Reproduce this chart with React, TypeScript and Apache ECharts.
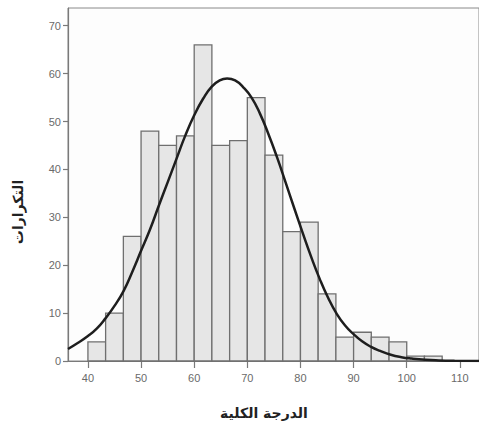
import React, { useEffect, useRef } from "react";
import * as echarts from "echarts";

// Histogram bins (lower edge, upper edge) and counts
const binLower = [40, 43.33, 46.67, 50, 53.33, 56.67, 60, 63.33, 66.67, 70, 73.33, 76.67, 80, 83.33, 86.67, 90, 93.33, 96.67, 100, 103.33];
const binUpper = [43.33, 46.67, 50, 53.33, 56.67, 60, 63.33, 66.67, 70, 73.33, 76.67, 80, 83.33, 86.67, 90, 93.33, 96.67, 100, 103.33, 106.67];
const counts = [4, 10, 26, 48, 45, 47, 66, 45, 46, 55, 43, 27, 29, 14, 5, 6, 5, 4, 1, 1];

// Normal curve points
const curveX = [36.25, 38, 40, 41.7, 43.3, 45, 46.7, 48.3, 50, 51.7, 53.3, 55, 56.7, 58.3, 60, 61.7, 63.3, 64.8, 66.2, 67.7, 69.2, 70.8, 72.4, 74, 75.6, 77.2, 78.8, 80.4, 82, 83.6, 85.2, 86.8, 88.4, 90, 91.6, 93.2, 95, 97, 99, 101, 103.5, 106, 109, 113.6];
const curveY = [2.5, 3.7, 5.2, 6.8, 8.9, 11.5, 14.6, 18.5, 23, 27.5, 32.3, 37.3, 42.3, 47, 51.3, 54.8, 57.3, 58.6, 59, 58.6, 57.2, 55, 51.6, 47.3, 42.5, 37.3, 32, 26.8, 21.8, 17.2, 13.2, 9.9, 7.4, 5.6, 4.1, 3, 2.1, 1.3, 0.8, 0.5, 0.25, 0.12, 0.05, 0.02];

// Tick labels
const xTicks = [40, 50, 60, 70, 80, 90, 100, 110];
const yTicks = [0, 10, 20, 30, 40, 50, 60, 70];

const xTitle = "الدرجة الكلية";
const yTitle = "التكرارات";

export default function App() {
  const ref = useRef<HTMLDivElement>(null);
  useEffect(() => {
    if (!ref.current) return;
    const chart = echarts.init(ref.current, undefined, { renderer: "svg" });
    const histData = counts.map((c, i) => [binLower[i], binUpper[i], c]);
    const lineData = curveX.map((x, i) => [x, curveY[i]]);
    const grey = "#7a7a7a";
    chart.setOption({
      animation: false,
      backgroundColor: "#ffffff",
      grid: {
        left: 68,
        right: 0,
        top: 8,
        bottom: 64,
        show: true,
        borderColor: "#8a8a8a",
        borderWidth: 1,
        backgroundColor: "#fdfdfd",
      },
      xAxis: {
        type: "value",
        min: 36.25,
        max: 113.6,
        splitLine: { show: false },
        axisLine: { show: true, lineStyle: { color: grey, width: 1.2 } },
        axisTick: {
          show: true,
          customValues: xTicks,
          length: 7,
          lineStyle: { color: grey, width: 1.2 },
        },
        axisLabel: {
          customValues: xTicks,
          color: "#6a6a6a",
          fontSize: 11,
          margin: 11,
          fontFamily: "Liberation Sans, Arial, sans-serif",
        },
      },
      yAxis: {
        type: "value",
        min: 0,
        max: 73.7,
        splitLine: { show: false },
        axisLine: { show: true, lineStyle: { color: grey, width: 1.2 } },
        axisTick: {
          show: true,
          customValues: yTicks,
          length: 5,
          lineStyle: { color: grey, width: 1.2 },
        },
        axisLabel: {
          customValues: yTicks,
          color: "#6a6a6a",
          fontSize: 11,
          margin: 7,
          fontFamily: "Liberation Sans, Arial, sans-serif",
        },
      },
      graphic: [
        {
          type: "text",
          x: 18,
          y: 212,
          rotation: Math.PI / 2,
          style: {
            text: yTitle,
            fill: "#222",
            font: "bold 14px 'DejaVu Sans', sans-serif",
            align: "center",
            verticalAlign: "middle",
          },
        },
        {
          type: "text",
          x: 264,
          y: 413,
          style: {
            text: xTitle,
            fill: "#222",
            font: "bold 14px 'DejaVu Sans', sans-serif",
            align: "center",
            verticalAlign: "middle",
          },
        },
      ],
      series: [
        {
          type: "custom",
          data: histData,
          encode: { x: [0, 1], y: 2 },
          z: 2,
          renderItem: (params: any, api: any) => {
            const x0 = api.value(0);
            const x1 = api.value(1);
            const c = api.value(2);
            const p0 = api.coord([x0, c]);
            const p1 = api.coord([x1, 0]);
            return {
              type: "rect",
              shape: { x: p0[0], y: p0[1], width: p1[0] - p0[0], height: p1[1] - p0[1] },
              style: { fill: "#e6e6e6", stroke: "#6f6f6f", lineWidth: 1.3 },
            };
          },
        },
        {
          type: "line",
          data: lineData,
          smooth: true,
          showSymbol: false,
          z: 5,
          lineStyle: { color: "#1e1e1e", width: 2.5 },
        },
      ],
    });
    return () => chart.dispose();
  }, []);
  return (
    <div
      ref={ref}
      style={{ position: "fixed", left: 0, top: 0, width: 479, height: 425 }}
    />
  );
}
